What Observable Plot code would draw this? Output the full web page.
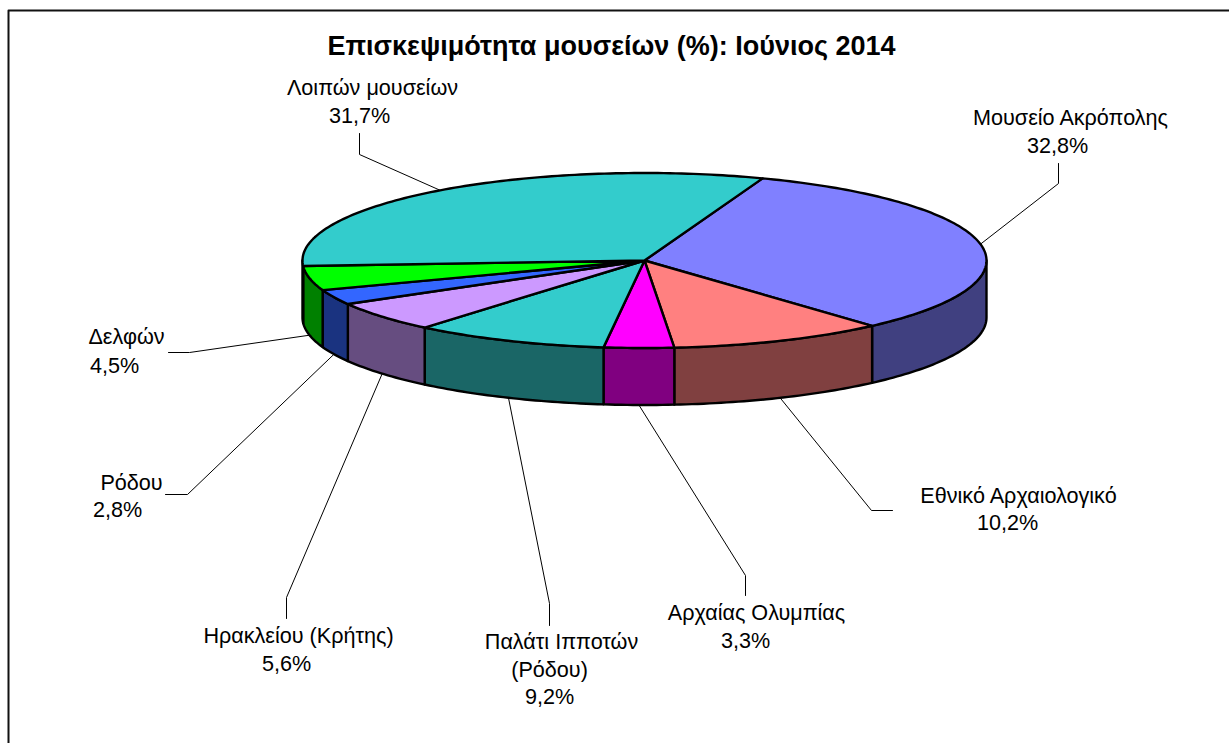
<!DOCTYPE html>
<html><head><meta charset="utf-8">
<script src="https://cdn.jsdelivr.net/npm/d3@7"></script>
<script src="https://cdn.jsdelivr.net/npm/@observablehq/plot@0.6"></script>
<style>html,body{margin:0;padding:0;background:#fff}svg{display:block}</style>
</head><body><div id="chart"></div>
<script>
const museums = ["Μουσείο Ακρόπολης","Εθνικό Αρχαιολογικό","Αρχαίας Ολυμπίας","Παλάτι Ιπποτών (Ρόδου)","Ηρακλείου (Κρήτης)","Ρόδου","Δελφών","Λοιπών μουσείων"];
const shares = [32.8,10.2,3.3,9.2,5.6,2.8,4.5,31.7];
const topColors = ["#8080FF","#FF8080","#FF00FF","#33CCCC","#CC99FF","#3366FF","#00FF00","#33CCCC"];
const sideColors = ["#404080","#804040","#800080","#1A6666","#664D80","#1A3380","#008000","#1A6666"];
const title = "Επισκεψιμότητα μουσείων (%): Ιούνιος 2014";

// layout of the pie
const cx = 644, cy = 260, rx = 342, ry = 87.5, depth = 57, startDeg = 69.8;
// per-slice: leader elbow and end, then label lines [text, centre x, baseline y]
const elbows = [[1058,183],[871,510],[745,575],[549,603],[286,597],[187,494],[189,352],[359,154]];
const ends = [[1058,163],[892,510],[745,595],[549,625],[286,618],[165,494],[168,352],[359,133]];
const labelLines = [
  [["Μουσείο Ακρόπολης",1070,124],["32,8%",1057,152]],
  [["Εθνικό Αρχαιολογικό",1018,502],["10,2%",1007,529]],
  [["Αρχαίας Ολυμπίας",756,619],["3,3%",745,647]],
  [["Παλάτι Ιπποτών",561,648],["(Ρόδου)",549,676],["9,2%",549,703]],
  [["Ηρακλείου (Κρήτης)",298,642],["5,6%",286,670]],
  [["Ρόδου",131,489],["2,8%",117,516]],
  [["Δελφών",126,343],["4,5%",114,372]],
  [["Λοιπών μουσείων",372,94],["31,7%",359,122]]
];

let acc = 0;
const slices = shares.map((v,i) => {
  const a0 = startDeg - acc/100*360; acc += v;
  const a1 = i === shares.length-1 ? startDeg - 360 : startDeg - acc/100*360;
  return {i, a0, a1, mid:(a0+a1)/2};
});
const pt = (deg, dy=0) => [cx + rx*Math.cos(deg*Math.PI/180), cy - ry*Math.sin(deg*Math.PI/180) + dy];
const arc = (a0,a1,dy=0) => { const n = Math.max(2,Math.ceil(Math.abs(a1-a0))); return d3.range(n+1).map(k => pt(a0+(a1-a0)*k/n,dy)); };

const topPolys = [], sidePolys = [];
const mk = (pts, i) => pts.map(p => ({x:p[0], y:p[1], i}));
for (const s of slices) {
  topPolys.push(mk([[cx,cy],...arc(s.a0,s.a1),[cx,cy]], s.i));
  // visible wall: angles between 0 and -180
  const a = Math.min(s.a0,0), b = Math.max(s.a1,-180);
  if (a > b) sidePolys.push(mk([...arc(a,b),...arc(b,a,depth),pt(a)], s.i));
}
const leaders = slices.map(s => {
  const front = s.mid < 0 && s.mid > -180;
  return [pt(s.mid, front ? depth : 0), elbows[s.i], ends[s.i]].map(p => ({x:p[0],y:p[1],i:s.i}));
});
const texts = labelLines.flat().map(([t,x,y]) => ({t,x,y}));

const polyMark = (rows, color) => Plot.line(rows, {x:"x", y:"y", z:null, stroke:"#000", strokeWidth:2.4, fill:color, strokeLinejoin:"round", curve:"linear"});
const marks = [
  Plot.line([{x:8,y:744},{x:8,y:10},{x:1229,y:10}], {x:"x",y:"y",stroke:"#111",strokeWidth:2}),
  ...leaders.map(l => Plot.line(l,{x:"x",y:"y",stroke:"#000",strokeWidth:1})),
  ...sidePolys.map(p => polyMark(p, sideColors[p[0].i])),
  ...topPolys.map(p => polyMark(p, topColors[p[0].i])),
  Plot.text(texts,{x:"x",y:"y",text:"t",textAnchor:"middle",lineAnchor:"bottom",fontSize:21.6,fill:"#000",fontFamily:"Liberation Sans"}),
  Plot.text([title],{x:[611],y:[54],text:d=>d,textAnchor:"middle",lineAnchor:"bottom",fontSize:27,fontWeight:"bold",fill:"#000",fontFamily:"Liberation Sans"})
];
const chart = Plot.plot({
  width:1229,height:743,margin:0,
  x:{domain:[0,1229],axis:null},
  y:{domain:[743,0],axis:null},
  marks
});
document.getElementById("chart").append(chart);
</script>
</body></html>
